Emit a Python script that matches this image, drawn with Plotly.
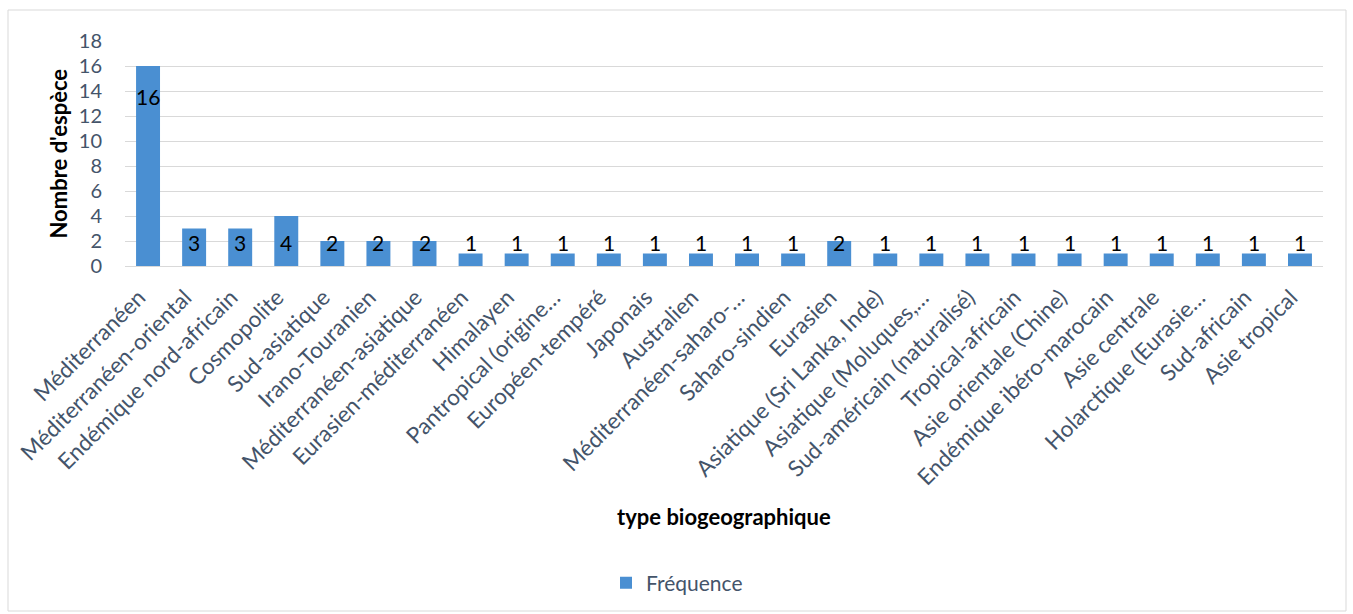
import plotly.graph_objects as go

categories = ["Méditerranéen", "Méditerranéen-oriental", "Endémique nord-africain", "Cosmopolite",
              "Sud-asiatique", "Irano-Touranien", "Méditerranéen-asiatique", "Eurasien-méditerranéen",
              "Himalayen", "Pantropical (origine…", "Européen-tempéré", "Japonais", "Australien",
              "Méditerranéen-saharo-…", "Saharo-sindien", "Eurasien", "Asiatique (Sri Lanka, Inde)",
              "Asiatique (Moluques,…", "Sud-américain (naturalisé)", "Tropical-africain",
              "Asie orientale (Chine)", "Endémique ibéro-marocain", "Asie centrale",
              "Holarctique (Eurasie…", "Sud-africain", "Asie tropical"]
frequence = [16, 3, 3, 4, 2, 2, 2, 1, 1, 1, 1, 1, 1, 1, 1, 2, 1, 1, 1, 1, 1, 1, 1, 1, 1, 1]
y_ticks = [0, 2, 4, 6, 8, 10, 12, 14, 16, 18]

FONT = "Lato"
TXT = "#44546A"

fig = go.Figure()
fig.add_trace(go.Bar(
    x=categories, y=frequence, name="Fréquence",
    marker=dict(color="#4A8FD2", line=dict(width=0)),
    showlegend=True,
))

# data labels
for c, v in zip(categories, frequence):
    ly = v - 2.4 if v > 10 else 1.85
    fig.add_annotation(x=c, y=ly, text=str(v), showarrow=False,
                       font=dict(family=FONT, size=21, color="black"),
                       xref="x", yref="y")

L, R, T, B = 125, 30, 41, 348
W, H = 1353, 614
pw = W - L - R
ph = H - T - B

def px(xp):
    return (xp - L) / pw

def py(yp):
    return (H - B - yp) / ph

fig.add_annotation(x=0.5, y=py(516), xref="paper", yref="paper", text="<b>type biogeographique</b>",
                   xanchor="center", yanchor="middle",
                   showarrow=False, font=dict(family=FONT, size=22, color="black"))
fig.add_annotation(x=px(58), y=0.5, xref="paper", yref="paper", text="<b>Nombre d'espèce</b>",
                   xanchor="center", yanchor="middle",
                   textangle=-90, showarrow=False, font=dict(family=FONT, size=22, color="black"))

fig.add_shape(type="rect", xref="paper", yref="paper",
              x0=px(8), x1=px(1346), y0=py(611), y1=py(10),
              line=dict(color="#D9D9D9", width=1), fillcolor="rgba(0,0,0,0)", layer="below")

fig.update_layout(
    width=W, height=H,
    margin=dict(l=L, r=R, t=T, b=B, autoexpand=False),
    paper_bgcolor="white", plot_bgcolor="white",
    bargap=0.48,
    font=dict(family=FONT, color=TXT),
    legend=dict(orientation="h", x=px(677), xanchor="center", y=py(583), yanchor="middle",
                font=dict(family=FONT, size=21, color=TXT), itemwidth=30),
    xaxis=dict(tickangle=-45, tickfont=dict(family=FONT, size=22.5, color=TXT),
               showgrid=False, showline=False, ticks="", automargin=False,
               ticklabelstandoff=13, ticklabelshift=-9),
    yaxis=dict(range=[0, 18], tickvals=y_ticks, tickfont=dict(family=FONT, size=20, color=TXT),
               showgrid=True, gridcolor="#D9D9D9", gridwidth=1, zeroline=True,
               zerolinecolor="#D9D9D9", zerolinewidth=1, ticks="", ticklabelstandoff=22,
               automargin=False),
)

fig.write_html("out.html")
